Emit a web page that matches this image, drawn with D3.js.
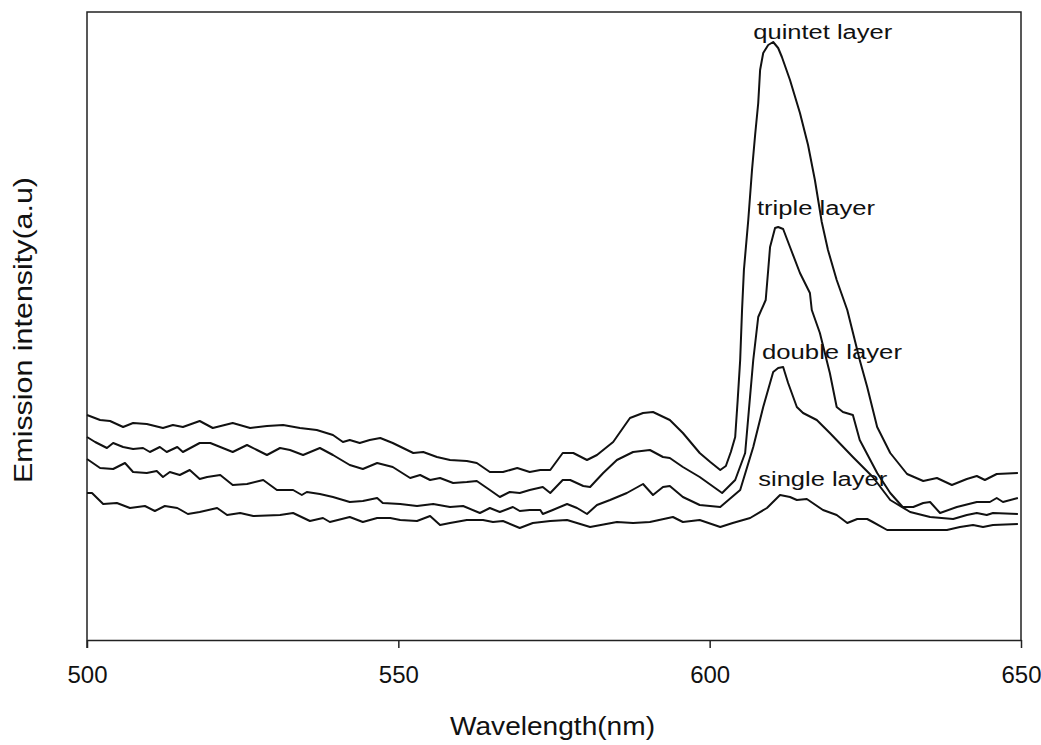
<!DOCTYPE html>
<html>
<head>
<meta charset="utf-8">
<script src="https://cdn.jsdelivr.net/npm/d3@7"></script>
<style>
  body { margin: 0; background: #fff; }
  svg text { font-family: "Liberation Sans", Arial, sans-serif; fill: #111; }
</style>
</head>
<body>
<svg id="chart" width="1041" height="745"></svg>
<script>
// emission spectra, [wavelength nm, intensity a.u.]
var quintet = [[500.0,225],[502.1,220],[503.7,219],[505.8,213],[507.4,217],[509.6,216],[512.2,212],[513.8,215],[515.4,213],[518.1,219],[520.2,212],[523.4,217],[526.2,212],[528.9,214],[531.5,215],[534.2,212],[536.9,210],[539.5,205],[541.1,198],[542.2,200],[543.8,197],[545.4,200],[547.1,202],[549.1,197],[552.4,187],[554.0,188],[556.2,183],[558.3,180],[561.0,179],[562.6,177],[564.7,168],[566.8,168],[569.1,172],[571.1,168],[572.8,170],[574.4,170],[576.4,187],[578.1,187],[580.3,180],[581.9,185],[584.5,198],[587.2,222],[589.3,227],[590.9,228],[593.6,220],[595.7,207],[598.4,187],[600.1,178],[601.7,170],[602.6,174],[603.4,188],[604.1,203],[604.5,240],[604.9,280],[605.2,330],[605.5,370],[606.2,420],[606.8,470],[607.3,505],[607.8,537],[608.1,570],[608.6,587],[609.4,595],[610.2,598],[611.0,592],[611.6,583],[612.9,560],[614.5,527],[615.8,495],[616.9,460],[618.0,418],[619.0,390],[620.4,360],[622.1,330],[624.1,280],[625.3,253],[626.9,213],[629.0,187],[631.7,166],[634.3,159],[636.5,162],[638.9,155],[641.3,161],[642.9,164],[644.2,160],[646.1,166],[649.5,167]];

var triple = [[500.0,203],[501.3,198],[503.2,192],[504.2,197],[505.8,193],[507.4,191],[509.0,192],[510.1,188],[511.7,193],[512.8,188],[514.5,193],[515.4,188],[518.1,197],[519.8,197],[521.8,192],[523.4,188],[525.7,195],[527.3,190],[528.9,185],[531.0,192],[532.6,190],[534.7,185],[537.4,192],[539.5,185],[542.2,175],[544.3,171],[546.6,177],[549.1,173],[551.9,162],[553.5,165],[555.1,160],[556.7,162],[558.8,157],[561.0,158],[562.6,159],[564.7,150],[566.3,143],[567.9,148],[569.5,147],[571.1,150],[573.2,153],[574.4,147],[576.4,160],[577.6,160],[579.7,154],[580.8,153],[582.9,167],[585.1,180],[587.7,188],[590.4,190],[592.5,183],[593.6,182],[595.7,173],[598.4,163],[602.0,147],[604.1,160],[605.7,187],[606.3,230],[607.0,280],[607.8,323],[609.0,340],[609.4,370],[609.7,393],[610.5,412],[611.0,413],[611.8,411],[612.9,393],[614.5,367],[616.1,347],[616.4,330],[617.7,307],[619.3,267],[620.4,233],[621.4,228],[623.0,225],[624.1,200],[626.9,167],[629.0,147],[631.0,133],[632.7,133],[634.3,137],[635.4,138],[637.0,127],[639.7,133],[642.9,138],[645.0,138],[646.1,142],[647.1,138],[649.5,142]];

var double_ = [[500.0,181],[502.1,172],[504.2,171],[506.1,177],[507.4,168],[509.6,167],[511.2,169],[512.2,163],[513.3,168],[514.9,165],[516.5,170],[518.1,161],[519.3,163],[521.4,165],[523.4,155],[525.7,156],[528.3,160],[530.5,150],[533.1,150],[534.5,145],[535.3,148],[537.4,146],[539.5,143],[542.2,138],[544.3,139],[546.6,142],[547.5,137],[550.3,136],[553.0,134],[555.6,136],[558.3,133],[560.4,134],[563.1,127],[564.7,132],[566.3,128],[568.4,133],[569.5,129],[571.1,130],[572.8,130],[573.2,126],[574.8,130],[577.1,136],[578.7,132],[580.3,126],[581.9,135],[584.0,140],[586.7,147],[589.3,156],[590.9,145],[592.5,153],[593.6,154],[595.7,143],[598.4,135],[601.7,133],[604.9,150],[607.0,193],[608.6,233],[610.2,268],[611.0,272],[611.8,273],[612.6,257],[614.0,233],[615.0,227],[617.2,220],[619.3,207],[623.0,183],[626.2,163],[629.0,140],[632.2,128],[635.4,123],[639.1,121],[641.3,125],[642.9,127],[644.5,125],[645.5,127],[649.5,126]];

var single = [[500.0,147],[500.8,147],[502.6,136],[504.8,137],[506.9,132],[509.3,134],[510.9,129],[512.5,134],[514.5,132],[516.2,126],[518.1,128],[520.9,132],[522.5,125],[524.6,127],[526.7,124],[531.0,125],[533.1,127],[535.8,119],[537.9,122],[539.0,118],[542.2,123],[544.3,118],[546.6,122],[548.7,122],[550.3,120],[553.0,119],[555.1,124],[556.7,115],[558.3,117],[561.0,120],[563.6,120],[565.2,118],[566.8,119],[569.5,112],[571.6,117],[574.4,119],[577.1,120],[580.8,113],[585.1,118],[587.7,117],[590.4,118],[594.1,123],[595.7,118],[598.4,120],[601.7,113],[603.7,117],[606.5,122],[609.2,132],[611.3,145],[612.9,143],[614.0,140],[615.6,141],[618.2,130],[620.4,125],[622.1,117],[623.7,121],[625.3,121],[626.2,118],[628.5,110],[630.6,110],[635.9,110],[638.1,110],[640.2,113],[642.3,115],[643.9,113],[645.5,115],[649.5,116]];

var xTicks = [500, 550, 600, 650];

// label text, anchor wavelength, anchor intensity, drawn width
var labels = [
  ['quintet layer', 607.0, 601, 139],
  ['triple layer', 607.6, 425, 118],
  ['double layer', 608.4, 281, 140],
  ['single layer', 607.8, 154, 129]
];

var svg = d3.select('#chart');
var pLeft = 87, pRight = 1021, pTop = 12, pBottom = 640;

var x = d3.scaleLinear().domain([500, 650]).range([pLeft, pRight]);
var y = d3.scaleLinear().domain([0, 628]).range([pBottom, pTop]);

// frame
svg.append('path')
  .attr('d', 'M' + pLeft + ',' + (pBottom + 8) + 'V' + pTop + 'H' + pRight + 'V' + pBottom)
  .attr('fill', 'none')
  .attr('stroke', '#222')
  .attr('stroke-width', 1.5);

var xAxis = svg.append('g')
  .attr('transform', 'translate(0,' + pBottom + ')')
  .call(d3.axisBottom(x).tickValues(xTicks).tickSize(8).tickSizeOuter(0).tickPadding(18));
xAxis.select('.domain').attr('stroke', '#222').attr('stroke-width', 1.5);
xAxis.selectAll('.tick line').attr('stroke', '#222').attr('stroke-width', 1.5);
xAxis.selectAll('.tick text')
  .style('font-family', '"Liberation Sans", Arial, sans-serif')
  .style('font-size', '24px')
  .attr('fill', '#111');

var line = d3.line()
  .x(function (d) { return x(d[0]); })
  .y(function (d) { return y(d[1]); });

[quintet, triple, double_, single].forEach(function (s) {
  svg.append('path')
    .datum(s)
    .attr('d', line)
    .attr('fill', 'none')
    .attr('stroke', '#111')
    .attr('stroke-width', 2)
    .attr('stroke-linejoin', 'round');
});

svg.selectAll('.lbl')
  .data(labels)
  .enter().append('text')
  .attr('class', 'lbl')
  .attr('x', function (d) { return x(d[1]); })
  .attr('y', function (d) { return y(d[2]); })
  .attr('textLength', function (d) { return d[3]; })
  .attr('lengthAdjust', 'spacingAndGlyphs')
  .style('font-size', '20px')
  .text(function (d) { return d[0]; });

// axis titles
svg.append('text')
  .attr('x', 450)
  .attr('y', 735)
  .attr('textLength', 205)
  .attr('lengthAdjust', 'spacingAndGlyphs')
  .style('font-size', '25px')
  .text('Wavelength(nm)');

svg.append('text')
  .attr('transform', 'translate(32,483) rotate(-90)')
  .attr('textLength', 306)
  .attr('lengthAdjust', 'spacingAndGlyphs')
  .style('font-size', '25px')
  .text('Emission intensity(a.u)');
</script>
</body>
</html>
